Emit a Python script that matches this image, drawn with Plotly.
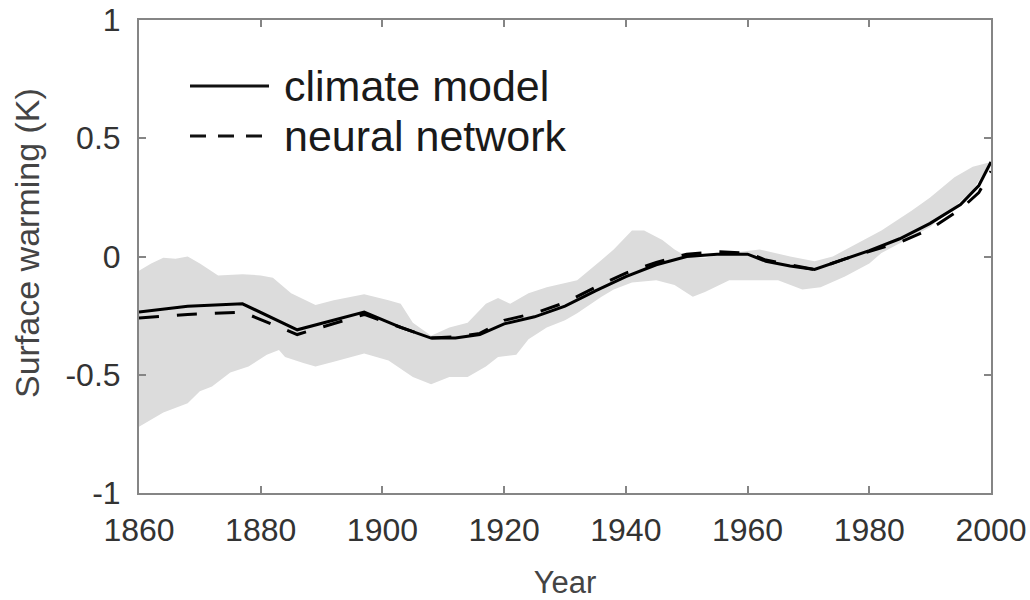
import plotly.graph_objects as go

# ---- data ----
model_years = [1860, 1868, 1877, 1886, 1897, 1903, 1908, 1912, 1916, 1920, 1925, 1930, 1935,
               1940, 1945, 1950, 1955, 1960, 1963, 1967, 1971, 1976, 1980, 1985, 1990, 1995, 1998, 2000]
climate_model = [-0.235, -0.21, -0.20, -0.31, -0.235, -0.30, -0.345, -0.345, -0.33, -0.285, -0.255,
                 -0.21, -0.145, -0.085, -0.035, 0.0, 0.01, 0.01, -0.02, -0.04, -0.055, -0.01, 0.025,
                 0.075, 0.14, 0.22, 0.30, 0.40]
neural_network = [-0.26, -0.245, -0.235, -0.33, -0.245, -0.30, -0.345, -0.34, -0.325, -0.27, -0.24,
                  -0.195, -0.13, -0.07, -0.025, 0.01, 0.02, 0.015, -0.015, -0.035, -0.055, -0.01, 0.02,
                  0.06, 0.115, 0.20, 0.27, 0.36]

upper_years = [1860, 1862, 1864, 1866, 1868, 1870, 1873, 1877, 1880, 1882, 1885, 1889, 1892, 1897,
               1901, 1903, 1905, 1908, 1911, 1914, 1917, 1919, 1921, 1924, 1927, 1932, 1936, 1938,
               1941, 1943, 1946, 1948, 1950, 1953, 1957, 1962, 1967, 1971, 1974, 1977, 1982, 1987,
               1990, 1994, 1997, 2000]
band_upper = [-0.06, -0.03, -0.005, -0.01, 0.0, -0.03, -0.08, -0.075, -0.08, -0.09, -0.155, -0.205,
              -0.185, -0.16, -0.185, -0.20, -0.28, -0.335, -0.30, -0.28, -0.20, -0.175, -0.20, -0.155,
              -0.13, -0.10, -0.015, 0.03, 0.11, 0.11, 0.07, 0.03, 0.0, -0.005, 0.015, 0.03, 0.0, -0.02,
              0.0, 0.04, 0.11, 0.195, 0.25, 0.335, 0.38, 0.40]

lower_years = [1860, 1864, 1868, 1870, 1872, 1875, 1878, 1881, 1883, 1884, 1887, 1889, 1892, 1897,
               1901, 1905, 1908, 1911, 1914, 1917, 1919, 1922, 1924, 1927, 1930, 1932, 1936, 1938,
               1941, 1945, 1948, 1951, 1953, 1957, 1962, 1965, 1969, 1972, 1976, 1980, 1982, 1986,
               1990, 1994, 1997, 2000]
band_lower = [-0.72, -0.66, -0.62, -0.57, -0.55, -0.49, -0.465, -0.415, -0.395, -0.425, -0.45, -0.465,
              -0.445, -0.41, -0.44, -0.51, -0.54, -0.51, -0.51, -0.465, -0.425, -0.415, -0.35, -0.30,
              -0.27, -0.24, -0.17, -0.14, -0.11, -0.10, -0.12, -0.17, -0.15, -0.10, -0.10, -0.10,
              -0.14, -0.13, -0.085, -0.03, 0.015, 0.07, 0.125, 0.21, 0.28, 0.40]

x_ticks = [1860, 1880, 1900, 1920, 1940, 1960, 1980, 2000]
y_ticks = [-1, -0.5, 0, 0.5, 1]
y_tick_text = ["-1", "-0.5", "0", "0.5", "1"]

FONT = "Liberation Sans, Arial, sans-serif"

fig = go.Figure()

fig.add_trace(go.Scatter(
    x=upper_years + lower_years[::-1],
    y=band_upper + band_lower[::-1],
    fill="toself", fillcolor="#dcdcdc", line=dict(width=0), mode="lines",
    hoverinfo="skip", showlegend=False))

fig.add_trace(go.Scatter(
    x=model_years, y=neural_network, mode="lines", name="neural network",
    line=dict(color="black", width=3, dash="20px,18px"), showlegend=False))

fig.add_trace(go.Scatter(
    x=model_years, y=climate_model, mode="lines", name="climate model",
    line=dict(color="black", width=3), showlegend=False))

axis_common = dict(
    showline=True, linecolor="#858585", linewidth=2, mirror="ticks",
    ticks="inside", ticklen=7, tickwidth=1.5, tickcolor="#858585",
    showgrid=False, zeroline=False, automargin=False,
    tickfont=dict(family=FONT, size=32, color="#333333"),
)

fig.update_xaxes(
    range=[1860, 2000], tickvals=x_ticks, ticktext=[str(v) for v in x_ticks],
    ticklabelstandoff=8,
    title=dict(text="Year", font=dict(family=FONT, size=31, color="#444444"), standoff=26),
    **axis_common)
fig.update_yaxes(
    range=[-1, 1], tickvals=y_ticks, ticktext=y_tick_text,
    ticklabelstandoff=10,
    **axis_common)

# manual legend and y title (paper coordinates)
L, W, T, H = 139, 852, 20, 473
def px(x):
    return (x - L) / W
def py(y):
    return (T + H - y) / H

fig.add_annotation(xref="paper", yref="paper", x=px(27), y=py(243), xanchor="center", yanchor="middle",
                   text="Surface warming (K)", textangle=-90, showarrow=False,
                   font=dict(family=FONT, size=34, color="#444444"))

fig.add_shape(type="line", xref="paper", yref="paper", x0=px(190), x1=px(269), y0=py(86), y1=py(86),
              line=dict(color="#111111", width=3))
fig.add_shape(type="line", xref="paper", yref="paper", x0=px(190), x1=px(263), y0=py(136), y1=py(136),
              line=dict(color="#111111", width=3, dash="16px,12px"))
fig.add_annotation(xref="paper", yref="paper", x=px(282), y=py(86), xanchor="left", yanchor="middle",
                   text="climate model", showarrow=False,
                   font=dict(family=FONT, size=43, color="#1a1a1a"))
fig.add_annotation(xref="paper", yref="paper", x=px(282), y=py(136), xanchor="left", yanchor="middle",
                   text="neural network", showarrow=False,
                   font=dict(family=FONT, size=43, color="#1a1a1a"))

fig.update_layout(
    width=1030, height=600,
    margin=dict(l=139, r=39, t=20, b=107),
    paper_bgcolor="white", plot_bgcolor="white",
    showlegend=False,
)

fig.write_html("out.html")
